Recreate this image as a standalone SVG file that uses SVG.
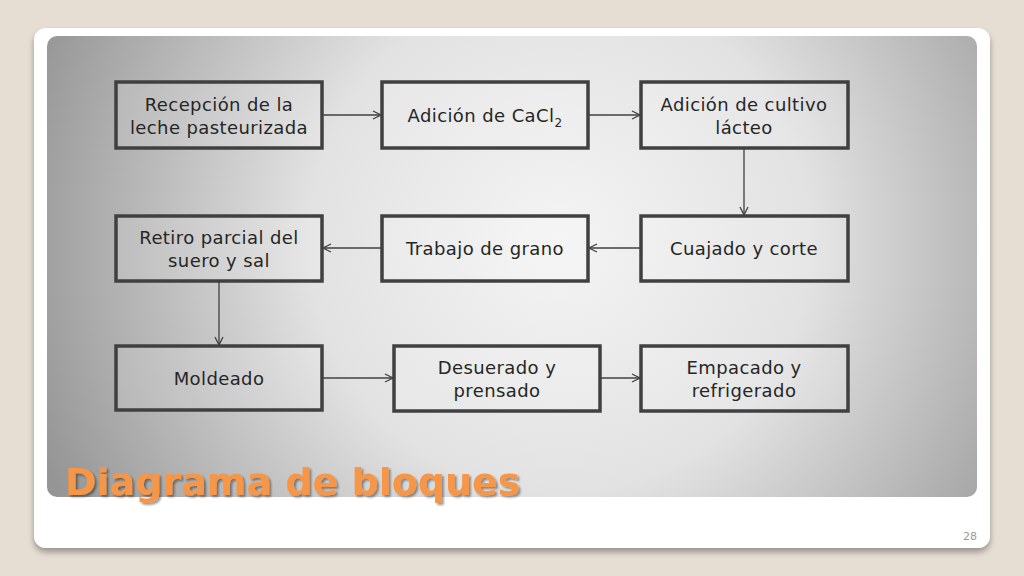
<svg xmlns="http://www.w3.org/2000/svg" width="1024" height="576" viewBox="0 0 1024 576">
<defs>
<radialGradient id="pg" cx="560" cy="240" r="560" gradientUnits="userSpaceOnUse">
<stop offset="0" stop-color="#f4f4f4"/>
<stop offset="0.45" stop-color="#e2e2e2"/>
<stop offset="1" stop-color="#959595"/>
</radialGradient>
<filter id="sh" x="-5%" y="-5%" width="110%" height="115%">
<feGaussianBlur in="SourceAlpha" stdDeviation="3"/>
<feOffset dx="0" dy="4" result="b"/>
<feComponentTransfer><feFuncA type="linear" slope="0.35"/></feComponentTransfer>
<feMerge><feMergeNode/><feMergeNode in="SourceGraphic"/></feMerge>
</filter>
<filter id="ts" x="-5%" y="-10%" width="110%" height="130%">
<feGaussianBlur in="SourceAlpha" stdDeviation="1"/>
<feOffset dx="2" dy="2"/>
<feComponentTransfer><feFuncA type="linear" slope="0.4"/></feComponentTransfer>
<feMerge><feMergeNode/><feMergeNode in="SourceGraphic"/></feMerge>
</filter>
<marker id="ah" viewBox="0 0 10 10" refX="9" refY="5" markerWidth="10" markerHeight="10" markerUnits="userSpaceOnUse" orient="auto">
<path d="M1,1 L9,5 L1,9" fill="none" stroke="#404040" stroke-width="1.3"/>
</marker>
</defs>
<style>
.box{fill:#ffffff;fill-opacity:0.15;stroke:#404040;stroke-width:3.5}
.lbl{font-family:"DejaVu Sans",Verdana,sans-serif;font-size:18px;letter-spacing:0.4px;fill:#262626;text-anchor:middle}
.con{stroke:#404040;stroke-width:1.3;fill:none;marker-end:url(#ah)}
</style>
<rect x="0" y="0" width="1024" height="576" fill="#e6ded3"/>
<rect x="34" y="28" width="956" height="520" rx="12" fill="#ffffff" filter="url(#sh)"/>
<rect x="47" y="36" width="930" height="461" rx="10" fill="url(#pg)"/>
<g id="connectors">
<line class="con" x1="322" y1="115" x2="381" y2="115"/>
<line class="con" x1="588" y1="115" x2="640" y2="115"/>
<line class="con" x1="744" y1="148" x2="744" y2="215"/>
<line class="con" x1="641" y1="248" x2="589" y2="248"/>
<line class="con" x1="382" y1="248" x2="323" y2="248"/>
<line class="con" x1="219" y1="281" x2="219" y2="345"/>
<line class="con" x1="322" y1="378" x2="393" y2="378"/>
<line class="con" x1="600" y1="378" x2="640" y2="378"/>
</g>
<g id="n1"><rect class="box" x="116" y="82" width="206" height="66"/>
<text class="lbl" x="219" y="111">Recepción de la</text><text class="lbl" x="219" y="134">leche pasteurizada</text></g>
<g id="n2"><rect class="box" x="382" y="82" width="206" height="66"/>
<text class="lbl" x="485" y="122">Adición de CaCl<tspan font-size="12" dy="5">2</tspan></text></g>
<g id="n3"><rect class="box" x="641" y="82" width="207" height="66"/>
<text class="lbl" x="744" y="111">Adición de cultivo</text><text class="lbl" x="744" y="134">lácteo</text></g>
<g id="n4"><rect class="box" x="641" y="216" width="207" height="65"/>
<text class="lbl" x="744" y="255">Cuajado y corte</text></g>
<g id="n5"><rect class="box" x="382" y="216" width="206" height="65"/>
<text class="lbl" x="485" y="255">Trabajo de grano</text></g>
<g id="n6"><rect class="box" x="116" y="216" width="206" height="65"/>
<text class="lbl" x="219" y="244">Retiro parcial del</text><text class="lbl" x="219" y="267">suero y sal</text></g>
<g id="n7"><rect class="box" x="116" y="346" width="206" height="64"/>
<text class="lbl" x="219" y="385">Moldeado</text></g>
<g id="n8"><rect class="box" x="394" y="346" width="206" height="65"/>
<text class="lbl" x="497" y="374">Desuerado y</text><text class="lbl" x="497" y="397">prensado</text></g>
<g id="n9"><rect class="box" x="641" y="346" width="207" height="65"/>
<text class="lbl" x="744" y="374">Empacado y</text><text class="lbl" x="744" y="397">refrigerado</text></g>
<text x="65" y="495" font-family="'DejaVu Sans',Verdana,sans-serif" font-weight="bold" font-size="38" fill="#f79646" filter="url(#ts)">Diagrama de bloques</text>
<text x="977" y="540" font-family="'DejaVu Sans',Verdana,sans-serif" font-size="11" fill="#999999" text-anchor="end">28</text>
</svg>
